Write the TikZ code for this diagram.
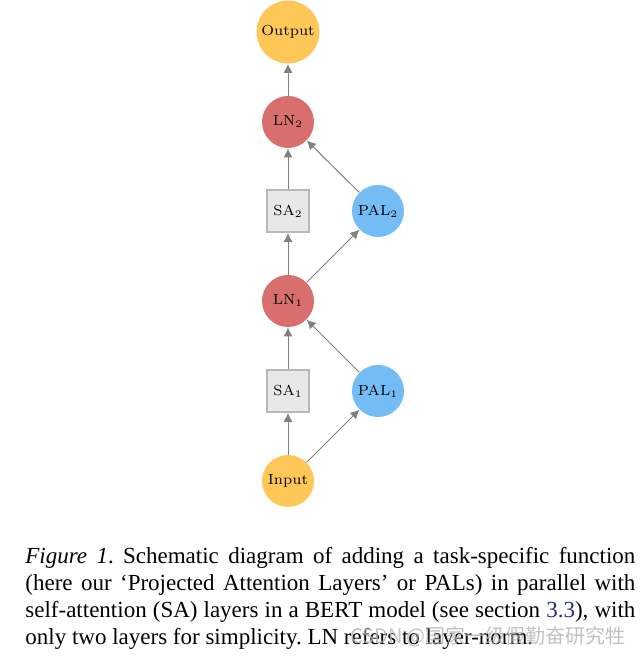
\documentclass[tikz,border=0pt]{standalone}
\usepackage{fontspec}
\newfontfamily\capfont{Liberation Serif}
\newfontfamily\cjkfont{Noto Sans CJK SC}
\usetikzlibrary{arrows.meta}
\definecolor{ioyellow}{RGB}{255,199,88}
\definecolor{normred}{RGB}{216,110,110}
\definecolor{palblue}{RGB}{116,188,246}
\definecolor{linkblue}{RGB}{35,40,150}

\begin{document}
\begin{tikzpicture}[x=0.5pt,y=0.5pt,
        every node/.style={font=\fontsize{7.3}{9}\selectfont},
        io/.style={circle,fill=ioyellow,minimum size=26pt,inner sep=1.6pt},
        ln/.style={circle,fill=normred,minimum size=26pt,inner sep=1.6pt},
        pal/.style={circle,fill=palblue,minimum size=26pt,inner sep=1.6pt},
        sa/.style={rectangle,fill=gray!18,draw=gray!55,line width=0.9pt,minimum size=21pt},
        link/.style={-{Latex[length=4.5pt,width=4.5pt]},draw=gray,line width=0.5pt}]
        \useasboundingbox (0,0) rectangle (640,656);

        \node[io] (input) at (288,175) {Input};
        \node[sa] (sa1) at (288,265) {SA$_1$};
        \node[pal] (pal1) at (378,265) {PAL$_1$};
        \node[ln] (ln1) at (288,355) {LN$_1$};
        \node[sa] (sa2) at (288,445) {SA$_2$};
        \node[pal] (pal2) at (378,445) {PAL$_2$};
        \node[ln] (ln2) at (288,534) {LN$_2$};
        \node[io] (output) at (288,624) {Output};

        \draw[link] (input) -- (sa1);
        \draw[link] (input) -- (pal1);
        \draw[link] (sa1) -- (ln1);
        \draw[link] (pal1) -- (ln1);
        \draw[link] (ln1) -- (sa2);
        \draw[link] (ln1) -- (pal2);
        \draw[link] (sa2) -- (ln2);
        \draw[link] (pal2) -- (ln2);
        \draw[link] (ln2) -- (output);

        \node[anchor=north west,inner sep=0pt,text width=305pt,align=justify,
              font=\capfont\fontsize{11.5}{13.5}\selectfont\frenchspacing] (caption) at (25,109)
              {\textit{Figure 1}. Schematic diagram of adding a task-specific function\linebreak
              (here our ‘Projected Attention Layers’ or PALs) in parallel with\linebreak
              self-attention (SA) layers in a BERT model (see section \textcolor{linkblue}{3.3}), with\linebreak
              only two layers for simplicity. LN refers to layer-norm.};
        \node[text=gray!60,opacity=0.8,font=\cjkfont\fontsize{10}{12}\selectfont] (mark) at (488,19)
              {CSDN @国家一级假勤奋研究牲};
\end{tikzpicture}
\end{document}
